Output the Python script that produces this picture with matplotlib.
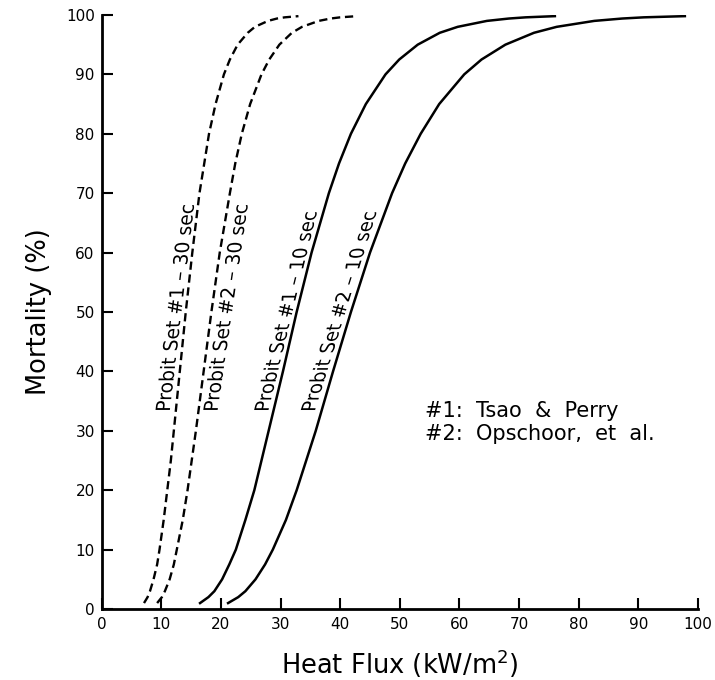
import numpy as np
import matplotlib
matplotlib.use("Agg")
import matplotlib.pyplot as plt
from matplotlib.textpath import TextPath
from matplotlib.patches import PathPatch
from matplotlib.transforms import Affine2D
from matplotlib.font_manager import FontProperties

# Datos (mortalidad % vs flujo de calor kW/m2)
mortalidad = [1, 2, 3, 5, 7.5, 10, 15, 20, 25, 30, 40, 50, 60, 70, 75, 80, 85,
              90, 92.5, 95, 97, 98, 99, 99.4, 99.6, 99.8]
set1_30s = [7.1, 7.7, 8.1, 8.7, 9.3, 9.7, 10.4, 11.0, 11.6, 12.1, 13.1, 14.1, 15.2,
            16.4, 17.2, 18.0, 19.1, 20.5, 21.5, 22.8, 24.5, 25.7, 27.9, 29.4, 30.7, 33.0]
set2_30s = [9.3, 10.1, 10.6, 11.4, 12.1, 12.6, 13.6, 14.4, 15.1, 15.8, 17.1, 18.4, 19.8,
            21.5, 22.4, 23.5, 24.9, 26.8, 28.1, 29.8, 31.9, 33.6, 36.4, 38.4, 40.0, 42.8]
set1_10s = [16.5, 17.9, 18.9, 20.2, 21.4, 22.5, 24.1, 25.6, 26.8, 28.0, 30.4, 32.7, 35.2,
            38.1, 39.8, 41.8, 44.3, 47.6, 49.9, 53.0, 56.7, 59.7, 64.6, 68.3, 71.1, 76.0]
set2_10s = [21.2, 22.9, 24.1, 25.8, 27.4, 28.7, 30.9, 32.7, 34.3, 35.9, 38.8, 41.8, 45.0,
            48.7, 50.9, 53.5, 56.6, 60.8, 63.7, 67.7, 72.5, 76.3, 82.6, 87.3, 90.9, 97.8]

etiquetas = ["Probit Set #1 \u2013 30 sec", "Probit Set #2 \u2013 30 sec",
             "Probit Set #1 \u2013 10 sec", "Probit Set #2 \u2013 10 sec"]
leyenda = ["#1:  Tsao  &  Perry", "#2:  Opschoor,  et  al."]

plt.rcParams["font.family"] = ["DejaVu Sans"]


# Texto girado 90 grados pero con la linea base inclinada (como en el original)
def etiquetaInclinada(ax, texto, p0, p1, alto):
    tp = TextPath((0, 0), texto, size=1, prop=FontProperties(family="DejaVu Sans"))
    w = tp.get_extents().x1
    bx = (p1[0] - p0[0]) / w
    by = (p1[1] - p0[1]) / w
    m = Affine2D(np.array([[bx, -alto, p0[0]], [by, 0.0, p0[1]], [0, 0, 1]]))
    ax.add_patch(PathPatch(tp, transform=m + ax.transData, facecolor="black", lw=0))


fig = plt.figure(figsize=(7.15, 6.8), dpi=100)
ax = fig.add_axes([0.1422, 0.1044, 0.834, 0.8736])

# Curvas
ax.plot(set1_30s, mortalidad, color="black", lw=1.7, dashes=(3.5, 2))
ax.plot(set2_30s, mortalidad, color="black", lw=1.7, dashes=(3.5, 2))
ax.plot(set1_10s, mortalidad, color="black", lw=1.8)
ax.plot(set2_10s, mortalidad, color="black", lw=1.8)

# Etiquetas de las curvas (inicio y fin de la linea base)
lineas = [((11.4, 33.2), (15.5, 68.0)),
          ((19.4, 33.2), (24.5, 68.0)),
          ((27.9, 33.2), (36.1, 66.8)),
          ((35.7, 33.2), (46.1, 66.8))]
for texto, (p0, p1) in zip(etiquetas, lineas):
    etiquetaInclinada(ax, texto, p0, p1, 3.3)

ax.text(54.3, 33.4, leyenda[0], fontsize=15, va="center")
ax.text(54.3, 29.5, leyenda[1], fontsize=15, va="center")

ax.set_xlim(0, 100)
ax.set_ylim(0, 100)
ax.set_xticks(range(0, 101, 10))
ax.set_yticks(range(0, 101, 10))
ax.tick_params(direction="in", length=8, width=1.5, labelsize=11, pad=6)
ax.tick_params(axis="y", pad=5)

for lado in ["top", "right"]:
    ax.spines[lado].set_visible(False)
for lado in ["left", "bottom"]:
    ax.spines[lado].set_linewidth(2.0)

ax.set_xlabel("Heat Flux (kW/m$^2$)", fontsize=18.5, labelpad=11)
ax.set_ylabel("Mortality (%)", fontsize=18.5, labelpad=10)

plt.savefig("out.png", dpi=100)
